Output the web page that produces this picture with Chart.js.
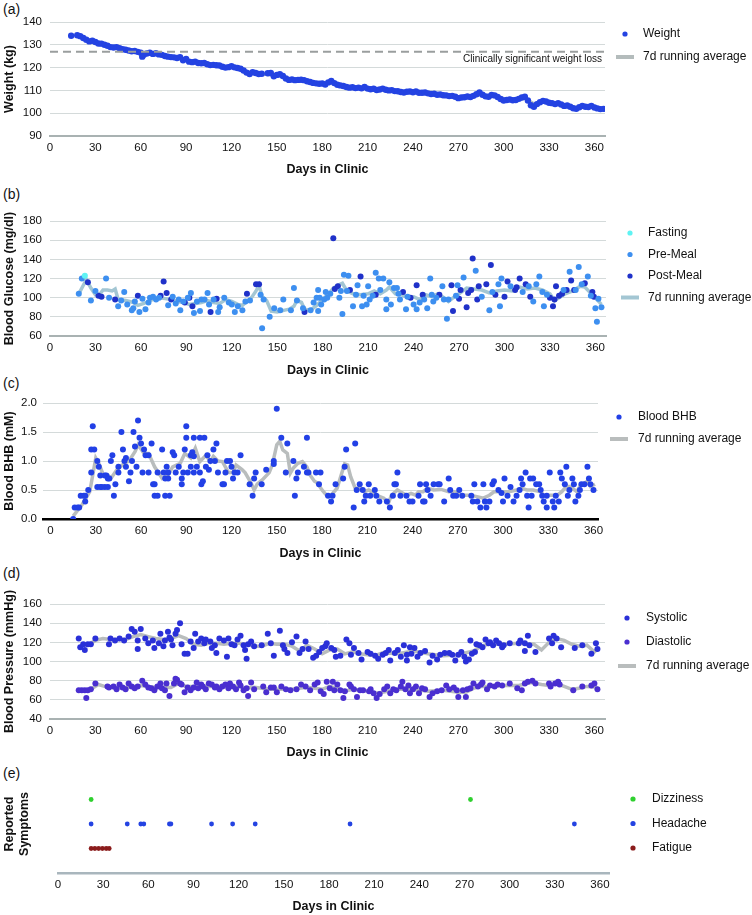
<!DOCTYPE html>
<html>
<head>
<meta charset="utf-8">
<script src="https://cdn.jsdelivr.net/npm/chart.js@4.4.1/dist/chart.umd.min.js"></script>
<style>
  body { margin: 0; background: #fff; width: 752px; height: 915px; overflow: hidden; position: relative; }
  canvas { position: absolute; left: 0; }
  .tag { position: absolute; left: 3px; font: 14px "Liberation Sans", Arial, sans-serif; color: #111; line-height: 14px; }
</style>
</head>
<body>
<div class="tag" style="top:2px">(a)</div>
<div class="tag" style="top:187px">(b)</div>
<div class="tag" style="top:376px">(c)</div>
<div class="tag" style="top:566px">(d)</div>
<div class="tag" style="top:766px">(e)</div>
<canvas id="pa" width="752" height="180" style="top:0px"></canvas>
<canvas id="pb" width="752" height="201" style="top:180px"></canvas>
<canvas id="pc" width="752" height="183" style="top:381px"></canvas>
<canvas id="pd" width="752" height="199" style="top:564px"></canvas>
<canvas id="pe" width="752" height="152" style="top:763px"></canvas>
<script>
// x axis ticks shared by all panels
const dayTicks = [0, 30, 60, 90, 120, 150, 180, 210, 240, 270, 300, 330, 360];

// ---- (a) weight, [day, kg]
const weight = [[14,134],[18,134.2],[20,133.8],[22,133],[24,132.2],[26,131.5],[28,131.8],[30,131.2],[32,130.6],[34,130.5],[36,130],[38,129.6],[40,129],[42,128.8],[44,129],[46,128.5],[48,128.1],[50,127.8],[52,127.5],[54,127.2],[56,127.3],[58,126.9],[60,126.5],[61,124.8],[62,125.6],[64,126.2],[66,126.5],[68,126],[70,126.3],[72,125.8],[74,125.6],[76,125.1],[78,124.8],[80,124.6],[82,124.5],[84,124.2],[86,124.6],[88,123.2],[90,123.8],[92,122.6],[94,122.4],[96,122.6],[98,122],[100,121.9],[102,122],[104,121.5],[106,121.1],[108,121.2],[110,121],[112,120.9],[114,120.4],[116,120],[118,120.2],[120,120.6],[122,120.1],[124,119.8],[126,119.5],[128,118.7],[130,117.8],[132,117.2],[134,118],[136,117.6],[138,117.2],[140,117.3],[144,117.5],[146,117.6],[148,116.2],[150,116.8],[152,117.1],[154,116.3],[156,115.2],[158,114.6],[160,114.8],[162,114.5],[164,114.6],[166,114.7],[168,114.5],[170,114],[172,113.7],[174,113.3],[176,113.1],[178,112.9],[180,113],[182,112.6],[184,113.5],[186,114.1],[188,113.2],[190,112.5],[192,112.2],[194,111.9],[196,111.5],[198,111.2],[200,111.4],[202,111],[204,111.2],[206,110.9],[208,111.5],[210,110.8],[212,110.5],[214,110.7],[216,110.2],[218,110.4],[220,110.8],[222,110.3],[224,110],[226,110.1],[228,109.7],[230,109.6],[232,109.3],[234,109.1],[236,109.4],[238,109.5],[240,109.2],[242,109.5],[244,109],[246,109],[248,109.1],[250,108.7],[252,108.4],[254,108.5],[256,108.1],[258,108.2],[260,107.9],[262,107.8],[264,107.5],[266,107.6],[268,107.2],[270,106.6],[272,106.9],[274,107],[276,107.3],[278,107.1],[280,107.6],[282,108.3],[284,109.1],[286,108.1],[288,107.4],[290,107.2],[292,108],[294,107.8],[296,107.1],[298,106.2],[300,105.6],[302,105.8],[304,106],[306,105.7],[308,105.8],[310,106.3],[312,106.9],[314,107.2],[316,105.6],[318,103.5],[320,102.8],[322,104],[324,104.8],[326,105.4],[328,105.1],[330,104.6],[332,104.4],[334,104],[336,104.4],[338,103.8],[340,103.2],[342,103.4],[344,102.8],[346,102.2],[348,101.9],[350,102.6],[352,103.2],[354,102.8],[356,102.7],[358,103.2],[360,102.5],[362,102.1],[364,101.8],[366,101.9]];
const weightAvg = [[24,132.5],[30,131],[36,130],[42,129],[48,128],[54,127.3],[60,126.3],[66,126],[72,125.8],[78,124.9],[84,124.2],[90,123.2],[96,122.4],[102,121.8],[108,121.2],[114,120.6],[120,120.3],[126,119.4],[132,117.8],[138,117.4],[146,116.9],[152,116.5],[158,115],[164,114.6],[170,114.1],[176,113.2],[182,113.1],[188,113.2],[194,112],[200,111.3],[206,111.1],[212,110.7],[218,110.4],[224,110.2],[230,109.6],[236,109.3],[242,109.3],[248,108.9],[254,108.4],[260,108],[266,107.5],[272,107],[278,107.2],[284,108.2],[290,107.6],[296,107.2],[302,105.9],[308,105.9],[314,106.5],[320,104],[326,104.9],[332,104.4],[338,103.9],[344,103],[350,102.4],[356,102.8],[362,102.2],[366,101.9]];
const weightLossKg = 127;

// ---- (b) blood glucose, [day, mg/dl]
const glucoseFasting = [[23,123]];
const glucosePreMeal = [[19,104],[21,120],[27,97],[30,107],[37,120],[39,100],[45,91],[47,97],[49,106],[51,93],[54,87],[55,89],[56,96],[59,85],[61,99],[63,88],[65,95],[66,100],[68,101],[70,98],[72,100],[78,92],[81,101],[83,94],[85,98],[86,87],[88,96],[91,100],[93,105],[95,84],[97,96],[99,86],[100,98],[102,98],[104,105],[105,93],[108,98],[111,85],[112,90],[115,100],[118,95],[120,93],[122,85],[124,91],[127,87],[129,96],[132,97],[139,103],[140,68],[141,98],[145,80],[148,89],[152,87],[154,98],[159,87],[161,110],[163,97],[167,89],[172,87],[174,95],[176,100],[177,108],[177,86],[178,100],[179,93],[181,98],[182,106],[183,100],[185,104],[191,100],[192,107],[193,83],[194,124],[196,107],[197,123],[200,91],[202,103],[203,113],[206,91],[207,102],[209,93],[210,112],[211,98],[213,102],[215,126],[217,120],[218,108],[220,120],[222,98],[222,88],[224,116],[225,93],[227,110],[229,110],[230,104],[231,98],[235,88],[236,101],[240,93],[242,88],[244,95],[247,98],[249,89],[251,120],[252,103],[253,96],[255,100],[259,112],[260,98],[262,78],[263,98],[268,102],[269,113],[273,121],[281,128],[285,101],[290,87],[292,106],[296,114],[297,91],[298,120],[304,112],[312,106],[316,112],[319,96],[321,114],[323,122],[325,106],[326,91],[328,103],[339,108],[343,127],[347,108],[349,132],[351,114],[355,122],[357,102],[360,89],[361,75],[362,99],[364,90]];
const glucosePostMeal = [[25,116],[32,102],[34,101],[43,98],[58,102],[73,102],[75,117],[77,105],[80,98],[89,95],[92,100],[94,91],[106,85],[110,99],[130,104],[136,114],[138,114],[168,85],[187,162],[188,109],[190,112],[198,108],[205,122],[215,103],[233,106],[238,100],[242,113],[246,103],[257,103],[265,113],[266,86],[270,99],[271,108],[275,90],[276,105],[278,108],[279,141],[282,98],[283,112],[288,114],[291,134],[294,103],[300,101],[302,117],[307,108],[308,111],[310,120],[314,114],[317,101],[330,100],[332,91],[333,98],[334,112],[336,102],[338,104],[341,108],[344,118],[346,108],[353,115],[358,106],[359,101]];
const glucoseAvg = [[19,104],[22,113],[24,119],[27,110],[30,103],[33,104],[35,108],[38,108],[41,107],[43,109],[45,98],[50,97],[55,95],[58,92],[62,94],[65,96],[69,99],[72,100],[76,99],[80,98],[84,96],[88,95],[92,93],[96,94],[100,95],[104,97],[108,95],[112,94],[116,98],[120,96],[124,93],[127,92],[130,96],[133,100],[136,107],[138,113],[140,101],[143,97],[146,86],[150,85],[155,87],[158,88],[161,91],[163,97],[166,95],[168,88],[172,87],[176,92],[180,98],[184,104],[187,110],[190,113],[193,115],[196,107],[200,104],[205,103],[210,104],[214,107],[218,104],[222,108],[224,111],[228,104],[232,103],[236,100],[240,101],[244,98],[248,103],[252,101],[256,104],[260,100],[263,96],[267,101],[270,104],[275,110],[280,109],[285,108],[290,105],[295,107],[300,108],[305,107],[310,111],[315,109],[320,110],[325,108],[330,104],[333,97],[336,100],[340,104],[345,107],[350,112],[353,111],[358,103],[361,98],[364,93]];

// ---- (c) blood BHB, [day, mM]
const bhb = [[15,0],[16,0.2],[18,0.2],[19,0.2],[20,0.4],[22,0.4],[23,0.4],[23,0.3],[25,0.5],[27,0.8],[27,1.2],[28,1.6],[29,1.2],[31,1.0],[32,0.9],[31,0.55],[33,0.75],[34,0.55],[36,0.75],[37,0.75],[38,0.7],[33,0.55],[36,0.55],[38,0.55],[39,0.7],[40,1.0],[41,1.1],[42,0.4],[43,0.6],[45,0.8],[45,0.9],[47,1.5],[48,1.2],[49,1.0],[50,1.05],[50,0.9],[52,0.65],[53,0.8],[54,1.0],[55,1.5],[56,1.25],[57,0.9],[58,1.7],[59,1.4],[60,1.3],[61,0.8],[62,1.2],[63,1.1],[65,1.1],[67,1.3],[65,0.8],[68,0.6],[69,0.6],[69,0.4],[71,0.8],[71,0.4],[74,1.2],[75,0.8],[76,0.7],[76,0.4],[77,0.9],[78,0.7],[78,0.8],[79,0.4],[81,1.15],[82,1.1],[83,0.8],[85,0.9],[87,0.6],[87,0.7],[88,0.8],[89,1.2],[90,1.4],[90,1.6],[91,0.8],[93,1.1],[93,0.9],[94,1.15],[95,1.4],[95,1.08],[95,0.8],[97,0.9],[99,1.4],[99,0.8],[100,0.6],[101,0.65],[102,1.4],[103,0.9],[104,1.1],[105,0.85],[106,1.0],[108,1.2],[109,1.0],[110,1.3],[111,0.8],[114,0.6],[115,0.6],[116,0.8],[117,1.0],[119,1.0],[120,0.9],[121,0.7],[122,0.8],[124,0.8],[126,1.1],[132,0.6],[134,0.4],[135,0.7],[136,0.8],[140,0.6],[143,0.85],[148,1.0],[148,0.95],[150,1.9],[153,1.4],[157,1.3],[156,0.8],[161,1.0],[162,0.4],[163,0.7],[164,0.8],[170,1.4],[168,0.9],[170,0.8],[171,0.8],[176,0.8],[178,0.6],[179,0.8],[184,0.4],[186,0.3],[187,0.4],[189,0.6],[194,0.7],[195,0.9],[196,1.2],[201,0.2],[202,1.3],[203,0.5],[205,0.6],[207,0.5],[208,0.3],[209,0.4],[211,0.6],[212,0.4],[215,0.5],[216,0.4],[218,0.3],[223,0.3],[225,0.2],[227,0.4],[228,0.6],[229,0.6],[230,0.8],[232,0.4],[236,0.4],[238,0.3],[240,0.3],[244,0.4],[245,0.6],[247,0.3],[248,0.3],[249,0.6],[250,0.5],[252,0.4],[254,0.6],[257,0.6],[258,0.6],[261,0.3],[264,0.7],[265,0.5],[267,0.4],[269,0.4],[271,0.5],[273,0.4],[279,0.4],[280,0.3],[281,0.6],[283,0.3],[285,0.2],[287,0.6],[288,0.3],[289,0.2],[291,0.3],[293,0.6],[294,0.65],[297,0.5],[299,0.45],[300,0.3],[301,0.7],[303,0.4],[305,0.55],[307,0.3],[309,0.4],[311,0.5],[312,0.7],[313,0.6],[315,0.8],[316,0.4],[317,0.2],[318,0.7],[319,0.4],[320,0.7],[322,0.6],[324,0.6],[325,0.5],[326,0.4],[327,0.3],[329,0.2],[329,0.4],[331,0.8],[333,0.3],[334,0.2],[335,0.4],[337,0.3],[338,0.8],[339,0.7],[341,0.6],[342,0.9],[343,0.4],[344,0.5],[346,0.7],[347,0.6],[348,0.3],[350,0.4],[351,0.5],[352,0.6],[354,0.6],[356,0.9],[357,0.7],[358,0.6],[360,0.5]];
const bhbAvg = [[15,0.05],[21,0.25],[26,0.47],[30,1.05],[32,0.96],[35,0.76],[38,0.76],[40,0.7],[44,0.85],[49,0.96],[52,1.0],[56,1.16],[58,1.28],[62,1.13],[65,1.13],[69,0.9],[74,0.7],[78,0.76],[81,0.9],[86,0.96],[89,1.13],[93,1.05],[96,1.22],[99,0.99],[103,1.1],[106,0.99],[108,1.08],[111,1.0],[114,0.99],[118,0.8],[121,0.8],[123,0.93],[127,0.85],[129,0.8],[133,0.62],[135,0.5],[137,0.6],[141,0.69],[145,0.8],[147,0.93],[150,1.28],[152,1.34],[154,1.19],[157,1.13],[159,0.79],[161,0.88],[164,0.96],[167,0.99],[170,0.9],[172,0.76],[175,0.65],[177,0.62],[180,0.5],[183,0.41],[186,0.41],[190,0.53],[192,0.7],[195,0.95],[197,0.93],[199,0.73],[202,0.53],[206,0.53],[208,0.47],[211,0.5],[215,0.44],[218,0.39],[221,0.36],[224,0.27],[226,0.41],[230,0.5],[232,0.47],[236,0.41],[239,0.44],[242,0.41],[244,0.47],[247,0.47],[250,0.53],[254,0.5],[259,0.51],[264,0.47],[268,0.47],[273,0.41],[278,0.41],[282,0.39],[287,0.36],[291,0.41],[294,0.47],[297,0.47],[300,0.47],[304,0.47],[309,0.5],[312,0.53],[316,0.5],[320,0.5],[325,0.47],[327,0.41],[332,0.41],[336,0.41],[339,0.47],[342,0.56],[344,0.56],[346,0.53],[349,0.47],[351,0.56],[354,0.62],[356,0.65],[358,0.56],[361,0.6]];

// ---- (d) blood pressure, [day, mmHg]
const systolic = [[19,124],[20,115],[22,118],[23,112],[25,118],[27,118],[30,124],[39,118],[40,124],[43,122],[46,124],[49,122],[52,126],[54,134],[56,131],[58,122],[58,113],[60,134],[63,124],[65,119],[68,122],[69,114],[72,119],[73,129],[75,116],[76,122],[78,131],[79,125],[80,123],[81,117],[83,129],[84,133],[86,140],[87,118],[89,108],[91,108],[93,121],[95,114],[96,129],[98,121],[100,124],[102,119],[103,123],[106,121],[107,114],[109,117],[110,109],[112,124],[115,122],[117,105],[118,124],[120,118],[122,117],[124,123],[126,127],[128,117],[129,112],[130,103],[131,118],[133,121],[135,116],[140,117],[144,129],[146,119],[148,106],[152,132],[154,117],[155,113],[157,109],[160,120],[163,126],[165,109],[167,113],[169,121],[171,113],[174,104],[176,106],[178,110],[180,114],[182,116],[183,119],[186,114],[188,112],[189,105],[192,106],[196,123],[198,119],[199,107],[201,114],[204,109],[206,102],[210,110],[212,108],[215,106],[217,103],[220,107],[222,109],[224,112],[225,101],[228,109],[230,112],[232,105],[234,117],[236,107],[236,101],[238,115],[239,108],[241,114],[243,105],[245,109],[248,111],[251,99],[253,106],[256,102],[258,107],[261,109],[264,109],[266,107],[268,101],[270,107],[272,110],[274,105],[275,100],[277,102],[278,122],[279,108],[281,110],[282,118],[284,117],[286,115],[288,123],[290,119],[291,120],[293,117],[295,122],[297,119],[299,115],[300,117],[304,119],[310,119],[311,122],[314,119],[314,111],[316,127],[317,117],[321,110],[330,124],[332,119],[333,127],[335,124],[338,115],[347,114],[352,117],[358,108],[361,119],[362,113]];
const diastolic = [[19,70],[21,70],[23,70],[24,62],[25,70],[27,71],[30,77],[38,74],[39,73],[42,74],[44,71],[46,76],[48,73],[50,71],[52,77],[54,74],[56,72],[58,74],[61,80],[63,76],[65,73],[67,72],[69,70],[71,74],[73,77],[74,72],[76,70],[77,77],[79,64],[82,77],[83,82],[84,81],[86,77],[87,76],[89,68],[91,73],[93,70],[95,73],[97,78],[98,72],[100,76],[101,74],[103,71],[105,77],[107,76],[109,73],[110,74],[112,71],[114,74],[116,76],[118,72],[119,77],[121,74],[123,71],[125,78],[126,75],[128,70],[130,72],[131,64],[133,78],[135,71],[141,74],[143,68],[146,73],[148,73],[150,68],[153,74],[156,71],[159,70],[163,71],[166,76],[169,74],[172,70],[175,76],[177,78],[179,69],[181,66],[183,79],[185,72],[187,79],[188,70],[190,76],[192,70],[194,62],[195,69],[198,76],[199,74],[201,71],[203,63],[205,70],[207,70],[211,69],[212,71],[214,67],[216,62],[218,66],[221,71],[223,74],[225,67],[227,71],[229,70],[232,74],[233,79],[235,71],[237,75],[238,67],[240,71],[242,74],[244,67],[246,72],[248,71],[251,63],[253,67],[256,69],[259,70],[262,75],[264,71],[267,73],[269,70],[270,63],[273,70],[275,63],[276,71],[278,72],[280,77],[283,74],[285,76],[286,78],[289,71],[291,75],[294,74],[296,76],[299,75],[304,77],[309,72],[312,70],[314,77],[316,79],[319,80],[321,77],[330,77],[331,74],[334,77],[336,79],[337,76],[346,70],[352,74],[358,75],[360,77],[362,71]];
const systolicAvg = [[20,117],[25,117],[30,122],[35,124],[40,123],[50,123],[55,126],[60,128],[65,126],[70,124],[75,123],[80,124],[85,127],[90,124],[95,118],[100,117],[105,119],[110,119],[115,118],[120,119],[125,119],[130,118],[135,116],[140,116],[145,119],[150,118],[155,118],[160,116],[165,111],[170,117],[175,113],[180,108],[185,112],[190,113],[195,108],[200,110],[205,108],[210,107],[215,106],[220,109],[230,108],[240,111],[250,108],[260,106],[270,107],[280,111],[285,116],[290,118],[300,118],[310,119],[320,118],[325,112],[330,120],[335,124],[340,122],[345,118],[350,116],[355,117],[360,110],[362,113]];
const diastolicAvg = [[20,70],[25,69],[28,72],[32,76],[36,74],[40,73],[50,73],[55,74],[60,75],[65,74],[70,73],[75,73],[80,73],[85,77],[90,74],[95,74],[100,75],[105,74],[110,74],[115,74],[120,74],[125,74],[130,72],[135,73],[140,72],[145,71],[150,71],[160,71],[165,72],[170,73],[175,72],[180,71],[185,74],[190,72],[195,69],[200,71],[205,70],[210,69],[215,67],[220,68],[230,71],[240,71],[250,69],[260,70],[270,68],[275,68],[280,72],[285,74],[290,74],[300,75],[310,75],[318,78],[325,76],[330,75],[335,77],[340,74],[345,71],[350,72],[355,74],[362,73]];

// ---- (e) reported symptoms, days
const symptomNames = ['Dizziness', 'Headache', 'Fatigue'];
const dizzinessDays = [22, 274];
const headacheDays = [22, 46, 55, 57, 74, 75, 102, 116, 131, 194, 343];
const fatigueDays = [22, 24.5, 27, 29.5, 32, 34];

Chart.defaults.font.family = '"Liberation Sans", Arial, Helvetica, sans-serif';
Chart.defaults.color = '#111';

const GRID = '#d4dada';
const AVG_GRAY = '#b9bdbd';

// legend drawn at fixed spots right of the plot
const sideLegend = {
  id: 'sideLegend',
  afterDraw(chart, args, o) {
    const ctx = chart.ctx;
    ctx.save();
    ctx.font = '12px "Liberation Sans", Arial, sans-serif';
    ctx.textBaseline = 'middle';
    chart.data.datasets.filter(ds => ds.legendKind !== 'none').forEach((ds, i) => {
      const y = o.y + i * o.gap;
      if (ds.legendKind === 'line') {
        ctx.strokeStyle = ds.borderColor;
        ctx.lineWidth = 4;
        ctx.beginPath();
        ctx.moveTo(o.x - 9, y);
        ctx.lineTo(o.x + 9, y);
        ctx.stroke();
      } else {
        ctx.fillStyle = ds.backgroundColor;
        ctx.beginPath();
        ctx.arc(o.x, y, 2.6, 0, Math.PI * 2);
        ctx.fill();
      }
      ctx.fillStyle = '#111';
      ctx.fillText(ds.label, o.tx, y);
    });
    ctx.restore();
  }
};

// dashed reference line on the weight panel
const refLine = {
  id: 'refLine',
  afterDatasetsDraw(chart, args, o) {
    if (!o.label) return;
    const {ctx, chartArea} = chart;
    const y = chart.scales.y.getPixelForValue(o.value);
    ctx.save();
    ctx.strokeStyle = '#9a9e9e';
    ctx.lineWidth = 2;
    ctx.setLineDash([8, 5]);
    ctx.beginPath();
    ctx.moveTo(chartArea.left, y);
    ctx.lineTo(chartArea.right, y);
    ctx.stroke();
    ctx.setLineDash([]);
    ctx.font = '10px "Liberation Sans", Arial, sans-serif';
    ctx.fillStyle = '#111';
    ctx.textAlign = 'right';
    ctx.textBaseline = 'middle';
    ctx.fillText(o.label, chartArea.right - 3, y + 8);
    ctx.restore();
  }
};

function dots(label, data, color, r) {
  return { type: 'scatter', label, data, backgroundColor: color, borderWidth: 0,
           pointRadius: r || 3, pointHoverRadius: r || 3, legendKind: 'dot', order: 1 };
}
function avgLine(data, color) {
  return { type: 'line', label: '7d running average', data, borderColor: color, backgroundColor: color,
           borderWidth: 3.5, pointRadius: 0, tension: 0, fill: false, legendKind: 'line', order: 5 };
}

function panel(id, p) {
  return new Chart(document.getElementById(id), {
    type: 'scatter',
    data: { datasets: p.datasets },
    plugins: [sideLegend, refLine],
    options: {
      responsive: false,
      animation: false,
      devicePixelRatio: 1,
      layout: { padding: { top: p.top, right: p.right, bottom: p.bottom, left: 0 } },
      plugins: {
        legend: { display: false },
        tooltip: { enabled: false },
        sideLegend: p.legend,
        refLine: p.ref || {}
      },
      scales: {
        x: {
          type: 'linear', min: p.xmin, max: p.xmax,
          afterFit: s => { s.height = p.xh; },
          afterBuildTicks: s => { s.ticks = dayTicks.map(v => ({ value: v })); },
          ticks: { padding: 5, font: { size: 11.5 }, color: '#111', maxRotation: 0, autoSkip: false },
          grid: { display: false, drawTicks: false },
          border: { display: true, color: p.axisColor, width: p.axisWidth },
          title: { display: true, text: 'Days in Clinic', font: { size: 12.5, weight: 'bold' }, color: '#111', padding: 0 }
        },
        y: {
          min: p.ymin, max: p.ymax,
          afterFit: s => { s.width = p.yw; },
          ticks: p.yticks,
          grid: { display: p.ygrid, color: GRID, lineWidth: 1, drawTicks: false },
          border: { display: false },
          title: { display: true, text: p.ytitle, font: { size: 12.5, weight: 'bold', lineHeight: 1.2 }, color: '#111', padding: { top: 2, bottom: 0 } }
        }
      }
    }
  });
}

const tickFont = { size: 11.5 };

panel('pa', {
  datasets: [dots('Weight', weight, '#2443e2', 3.2), avgLine(weightAvg, '#b4bcbc')],
  top: 22, right: 147, bottom: 3, xh: 41, yw: 50, xmin: 0, xmax: 367,
  ymin: 90, ymax: 140, yticks: { stepSize: 10, padding: 8, font: tickFont, color: '#111' }, ygrid: true,
  axisColor: '#a9b2b2', axisWidth: 2, ytitle: 'Weight (kg)',
  legend: { x: 625, tx: 643, y: 34, gap: 23 },
  ref: { value: weightLossKg, label: 'Clinically significant weight loss' }
});

panel('pb', {
  datasets: [dots('Fasting', glucoseFasting, '#5ff3f3'), dots('Pre-Meal', glucosePreMeal, '#3d8ff0'),
             dots('Post-Meal', glucosePostMeal, '#1f31c9'), avgLine(glucoseAvg, '#a3c6d3')],
  top: 41, right: 146, bottom: 3, xh: 42, yw: 50, xmin: 0, xmax: 367,
  ymin: 60, ymax: 180, yticks: { stepSize: 20, padding: 8, font: tickFont, color: '#111' }, ygrid: true,
  axisColor: '#a9b2b2', axisWidth: 2, ytitle: 'Blood Glucose (mg/dl)',
  legend: { x: 630, tx: 648, y: 53, gap: 21.5 }
});

panel('pc', {
  datasets: [dots('Blood BHB', bhb, '#2240e6'), avgLine(bhbAvg, AVG_GRAY)],
  top: 22, right: 154, bottom: 3, xh: 42, yw: 43, xmin: -5, xmax: 363,
  ymin: 0, ymax: 2, yticks: { stepSize: 0.5, padding: 6, font: tickFont, color: '#111', callback: v => v.toFixed(1) }, ygrid: true,
  axisColor: '#000', axisWidth: 2.5, ytitle: 'Blood BHB (mM)',
  legend: { x: 619, tx: 638, y: 36, gap: 22 }
});

panel('pd', {
  datasets: [dots('Systolic', systolic, '#2a30d8'), dots('Diastolic', diastolic, '#4a2fd0'),
             avgLine(systolicAvg, AVG_GRAY), Object.assign(avgLine(diastolicAvg, AVG_GRAY), { legendKind: 'none' })],
  top: 40, right: 147, bottom: 3, xh: 41, yw: 50, xmin: 0, xmax: 367,
  ymin: 40, ymax: 160, yticks: { stepSize: 20, padding: 8, font: tickFont, color: '#111' }, ygrid: true,
  axisColor: '#a9b2b2', axisWidth: 2, ytitle: 'Blood Pressure (mmHg)',
  legend: { x: 627, tx: 646, y: 54, gap: 24 }
});

const symptomSets = [dizzinessDays, headacheDays, fatigueDays];
const symptomColors = ['#2fd02f', '#2443e2', '#8b1c1c'];
panel('pe', {
  datasets: symptomSets.map((days, i) =>
    dots(symptomNames[i], days.map(d => [d, symptomNames.length - i]), symptomColors[i], 2.4)),
  top: 12, right: 143, bottom: 1, xh: 41, yw: 58, xmin: 0, xmax: 366,
  ymin: 0, ymax: 4, yticks: { display: false, stepSize: 1 }, ygrid: false,
  axisColor: '#a9b6bd', axisWidth: 2.5, ytitle: ['Reported', 'Symptoms'],
  legend: { x: 633, tx: 652, y: 36, gap: 24.5 }
});
</script>
</body>
</html>
